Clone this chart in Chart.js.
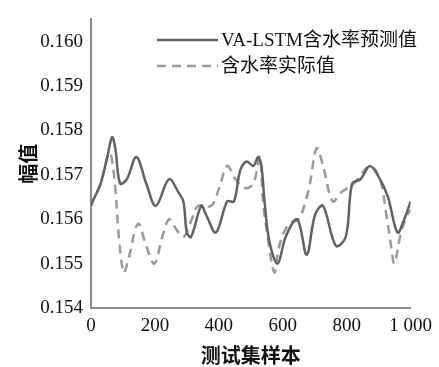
<!DOCTYPE html>
<html>
<head>
<meta charset="utf-8">
<script src="https://cdn.jsdelivr.net/npm/chart.js@4/dist/chart.umd.min.js"></script>
<style>
html,body{margin:0;padding:0;background:#fff;}
#wrap{width:439px;height:367px;position:relative;}
</style>
</head>
<body>
<div id="wrap"><canvas id="c" width="439" height="367"></canvas></div>
<script>
const seriesNames = ["VA-LSTM含水率预测值", "含水率实际值"];
const xTickValues = [0, 200, 400, 600, 800, 1000];
const xTickLabels = ["0", "200", "400", "600", "800", "1 000"];
const yTickValues = [0.154, 0.155, 0.156, 0.157, 0.158, 0.159, 0.160];
const xTitle = "测试集样本";
const yTitle = "幅值";

const predX = [0, 5, 30, 51, 66, 76, 91, 112, 142, 173, 203, 244, 274, 289, 300, 313, 345, 360, 391, 426, 447, 467, 487, 508, 523, 533, 543, 558, 584, 609, 645, 675, 701, 726, 766, 797, 817, 843, 873, 904, 929, 959, 980, 1000];
const predY = [0.1563, 0.1564, 0.1568, 0.1574, 0.15785, 0.1576, 0.1568, 0.1569, 0.1574, 0.1568, 0.1563, 0.1569, 0.1566, 0.1564, 0.1557, 0.1556, 0.1563, 0.1561, 0.1557, 0.1564, 0.1564, 0.1571, 0.1573, 0.1572, 0.1574, 0.1572, 0.1564, 0.1555, 0.1550, 0.1556, 0.1560, 0.1552, 0.1561, 0.1563, 0.1554, 0.1556, 0.1568, 0.1569, 0.1572, 0.1569, 0.1565, 0.1557, 0.1560, 0.1564];

const actX = [0, 5, 30, 51, 61, 76, 86, 102, 117, 147, 173, 198, 223, 244, 264, 289, 310, 335, 376, 401, 426, 452, 482, 508, 528, 538, 553, 574, 589, 619, 650, 675, 685, 706, 726, 756, 782, 822, 873, 904, 924, 939, 949, 970, 990, 1000];
const actY = [0.1563, 0.1564, 0.1568, 0.1574, 0.1575, 0.1567, 0.1557, 0.1548, 0.1551, 0.1559, 0.1554, 0.1550, 0.1556, 0.1560, 0.1558, 0.1556, 0.1559, 0.1563, 0.1563, 0.1567, 0.1572, 0.1569, 0.1567, 0.1568, 0.1574, 0.1564, 0.1556, 0.1548, 0.1554, 0.1559, 0.1560, 0.1565, 0.1568, 0.1576, 0.1572, 0.1564, 0.1566, 0.1568, 0.1572, 0.1569, 0.1561, 0.1554, 0.1550, 0.1557, 0.1561, 0.1562];

const toPts = (xs, ys) => xs.map((x, i) => ({x: x, y: ys[i]}));

const serif = "'Liberation Serif', 'Noto Sans CJK SC', serif";
const cjk = "'Noto Sans CJK SC', 'Liberation Serif', sans-serif";

const legendPlugin = {
  id: 'inLegend',
  afterDraw(chart) {
    const ctx = chart.ctx;
    const rows = [{y: 40}, {y: 66}];
    chart.data.datasets.forEach((ds, i) => {
      const y = rows[i].y;
      ctx.save();
      ctx.strokeStyle = ds.borderColor;
      ctx.lineWidth = ds.borderWidth;
      ctx.setLineDash(ds.borderDash || []);
      ctx.beginPath();
      ctx.moveTo(157, y);
      ctx.lineTo(218, y);
      ctx.stroke();
      ctx.setLineDash([]);
      ctx.fillStyle = '#111';
      ctx.font = "19px " + serif;
      ctx.textBaseline = 'middle';
      ctx.textAlign = 'left';
      ctx.fillText(seriesNames[i], 221, y + 1);
      ctx.restore();
    });
  }
};

new Chart(document.getElementById('c'), {
  type: 'line',
  data: {
    datasets: [
      {
        label: seriesNames[0],
        data: toPts(predX, predY),
        borderColor: '#626262',
        borderWidth: 2.5,
        pointRadius: 0,
        tension: 0.35,
        fill: false
      },
      {
        label: seriesNames[1],
        data: toPts(actX, actY),
        borderColor: '#9a9a9a',
        borderWidth: 2.5,
        borderDash: [9, 6],
        pointRadius: 0,
        tension: 0.35,
        fill: false
      }
    ]
  },
  options: {
    responsive: false,
    animation: false,
    layout: {padding: {left: 0, right: 21, top: 8, bottom: 0}},
    plugins: {legend: {display: false}, tooltip: {enabled: false}},
    scales: {
      x: {
        type: 'linear',
        min: 0,
        max: 1000,
        grid: {display: false, drawTicks: false},
        border: {display: true, color: '#8a8a8a', width: 2},
        afterBuildTicks: s => { s.ticks = xTickValues.map(v => ({value: v})); },
        afterFit: s => { s.height = 59; },
        ticks: {
          color: '#111',
          font: {size: 19, family: serif},
          padding: 7,
          maxRotation: 0,
          callback: (v) => xTickLabels[xTickValues.indexOf(v)]
        },
        title: {
          display: true,
          text: xTitle,
          color: '#111',
          font: {size: 20, family: cjk, weight: 'bold'},
          padding: {top: 0, bottom: 0}
        }
      },
      y: {
        type: 'linear',
        min: 0.154,
        max: 0.1605,
        grid: {display: false, drawTicks: false},
        border: {display: true, color: '#8a8a8a', width: 2},
        afterBuildTicks: s => { s.ticks = yTickValues.map(v => ({value: v})); },
        afterFit: s => { s.width = 91; },
        ticks: {
          color: '#111',
          font: {size: 19, family: serif},
          padding: 8,
          callback: (v) => v.toFixed(3)
        },
        title: {
          display: true,
          text: yTitle,
          color: '#111',
          font: {size: 20, family: cjk, weight: 'bold'},
          padding: {top: 16, bottom: 0}
        }
      }
    }
  },
  plugins: [legendPlugin]
});
</script>
</body>
</html>
